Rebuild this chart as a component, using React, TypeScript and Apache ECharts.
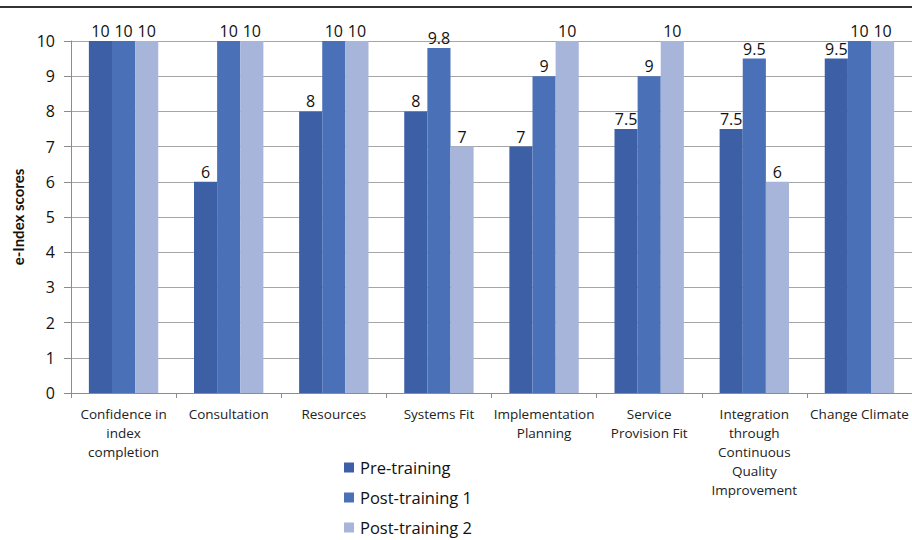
import React, { useEffect, useRef } from "react";
import * as echarts from "echarts";

const categories = [
  "Confidence in\nindex\ncompletion",
  "Consultation",
  "Resources",
  "Systems Fit",
  "Implementation\nPlanning",
  "Service\nProvision Fit",
  "Integration\nthrough\nContinuous\nQuality\nImprovement",
  "Change Climate",
];

const preTraining = [10, 6, 8, 8, 7, 7.5, 7.5, 9.5];
const postTraining1 = [10, 10, 10, 9.8, 9, 9, 9.5, 10];
const postTraining2 = [10, 10, 10, 7, 10, 10, 6, 10];

const seriesNames = ["Pre-training", "Post-training 1", "Post-training 2"];
const seriesColors = ["#3C5FA6", "#4A70B8", "#A7B5DA"];

const FONT = "'Open Sans', 'Noto Sans', sans-serif";
const TITLE_FONT = "Lato, 'Open Sans', sans-serif";

export default function App() {
  const ref = useRef<HTMLDivElement>(null);

  useEffect(() => {
    document.body.style.margin = "0";
    if (!ref.current) return;
    const chart = echarts.init(ref.current, undefined, { renderer: "svg" });

    const values = [preTraining, postTraining1, postTraining2];

    chart.setOption({
      animation: false,
      backgroundColor: "#ffffff",
      textStyle: { fontFamily: FONT },
      graphic: [
        {
          type: "line",
          shape: { x1: 0, y1: 7, x2: 912, y2: 7 },
          style: { stroke: "#333333", lineWidth: 2 },
        },
      ],
      grid: { left: 71, right: -6, top: 41, bottom: 147, containLabel: false },
      legend: {
        orient: "vertical",
        left: 344,
        top: 459,
        height: 120,
        padding: 0,
        itemWidth: 10,
        itemHeight: 10,
        itemGap: 13,
        icon: "rect",
        textStyle: {
          fontSize: 16.5,
          lineHeight: 16,
          color: "#111",
          fontFamily: FONT,
          padding: [0, 0, 0, 1],
        },
        data: seriesNames,
      },
      xAxis: {
        type: "category",
        data: categories,
        axisLine: { lineStyle: { color: "#8c8c8c", width: 1 } },
        axisTick: { show: true, length: 5, alignWithLabel: false, lineStyle: { color: "#8c8c8c" } },
        axisLabel: {
          interval: 0,
          fontSize: 13.5,
          lineHeight: 19,
          color: "#222",
          margin: 11,
          fontFamily: FONT,
        },
      },
      yAxis: {
        type: "value",
        min: 0,
        max: 10,
        interval: 1,
        name: "e-Index scores",
        nameLocation: "middle",
        nameGap: 46,
        nameTextStyle: { fontSize: 15, fontWeight: "bold", color: "#111", fontFamily: TITLE_FONT },
        axisLine: { show: true, lineStyle: { color: "#8c8c8c" } },
        axisTick: { show: true, length: 7, lineStyle: { color: "#8c8c8c" } },
        axisLabel: { fontSize: 16, color: "#111", margin: 16, fontFamily: FONT },
        splitLine: { lineStyle: { color: "#a6a6a6", width: 1 } },
      },
      series: seriesNames.map((name, i) => ({
        name,
        type: "bar",
        data: values[i],
        barGap: "0%",
        barCategoryGap: "34%",
        itemStyle: { color: seriesColors[i] },
        label: {
          show: true,
          position: "top",
          distance: 2,
          fontSize: 16,
          color: "#111",
          fontFamily: FONT,
        },
      })),
    });

    return () => chart.dispose();
  }, []);

  return <div ref={ref} style={{ width: 912, height: 540 }} />;
}
